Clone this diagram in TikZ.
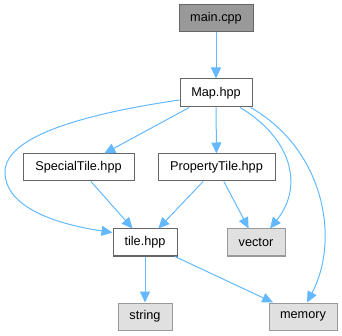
\documentclass[tikz,border=0pt]{standalone}
\usepackage{fontspec}
\setmainfont{Liberation Sans}
\usetikzlibrary{arrows.meta,calc}

\definecolor{edgeblue}{HTML}{63B8FF}
\definecolor{grayforty}{HTML}{666666}
\definecolor{graysixty}{HTML}{999999}
\definecolor{extfill}{HTML}{E0E0E0}

\tikzset{
  filebox/.style={draw=grayforty, fill=white, line width=1pt, inner sep=0pt,
    minimum height=27pt, font=\fontsize{12.7}{15}\selectfont},
  mainbox/.style={filebox, fill=graysixty},
  extbox/.style={filebox, draw=graysixty, fill=extfill},
  dep/.style={draw=edgeblue, line width=1pt, -{Triangle[length=11pt,width=10pt]}},
}

\begin{document}
\begin{tikzpicture}[x=1pt, y=-1pt]
  \useasboundingbox (0,0) rectangle (342,336);

  % include graph nodes
  \node[mainbox, minimum width=74pt] (main) at (216,18.5) {main.cpp};
  \node[filebox, minimum width=72pt, minimum height=28pt] (map) at (216,93) {Map.hpp};
  \node[filebox, minimum width=111pt] (special) at (78.5,167.5) {SpecialTile.hpp};
  \node[filebox, minimum width=117pt] (property) at (216.5,167.5) {PropertyTile.hpp};
  \node[filebox, minimum width=64pt] (tile) at (145,242.5) {tile.hpp};
  \node[extbox, minimum width=58pt] (vector) at (256,242.5) {vector};
  \node[extbox, minimum width=54pt] (string) at (145,316.5) {string};
  \node[extbox, minimum width=68pt] (memory) at (303,316.5) {memory};

  % straight dependencies
  \draw[dep] (main) -- (map);
  \draw[dep] (map) -- (special);
  \draw[dep] (map) -- (property);
  \draw[dep] (special) -- (tile);
  \draw[dep] (property) -- (tile);
  \draw[dep] (property) -- (vector);
  \draw[dep] (tile) -- (string);
  \draw[dep] (tile) -- (memory);

  % curved dependencies
  \draw[dep] ($(map.west)+(0,7)$) .. controls (90,113) and (5,135) .. (5,172)
    .. controls (5,207) and (55,224) .. ($(tile.north west)+(0,4)$);
  \draw[dep] ($(map.south)+(24,0)$) .. controls (290,137) and (305,185) .. ($(vector.north)+(14,0)$);
  \draw[dep] ($(map.south east)+(-2,0)$) .. controls (325,150) and (340,240) .. ($(memory.north)+(4,0)$);
\end{tikzpicture}
\end{document}
